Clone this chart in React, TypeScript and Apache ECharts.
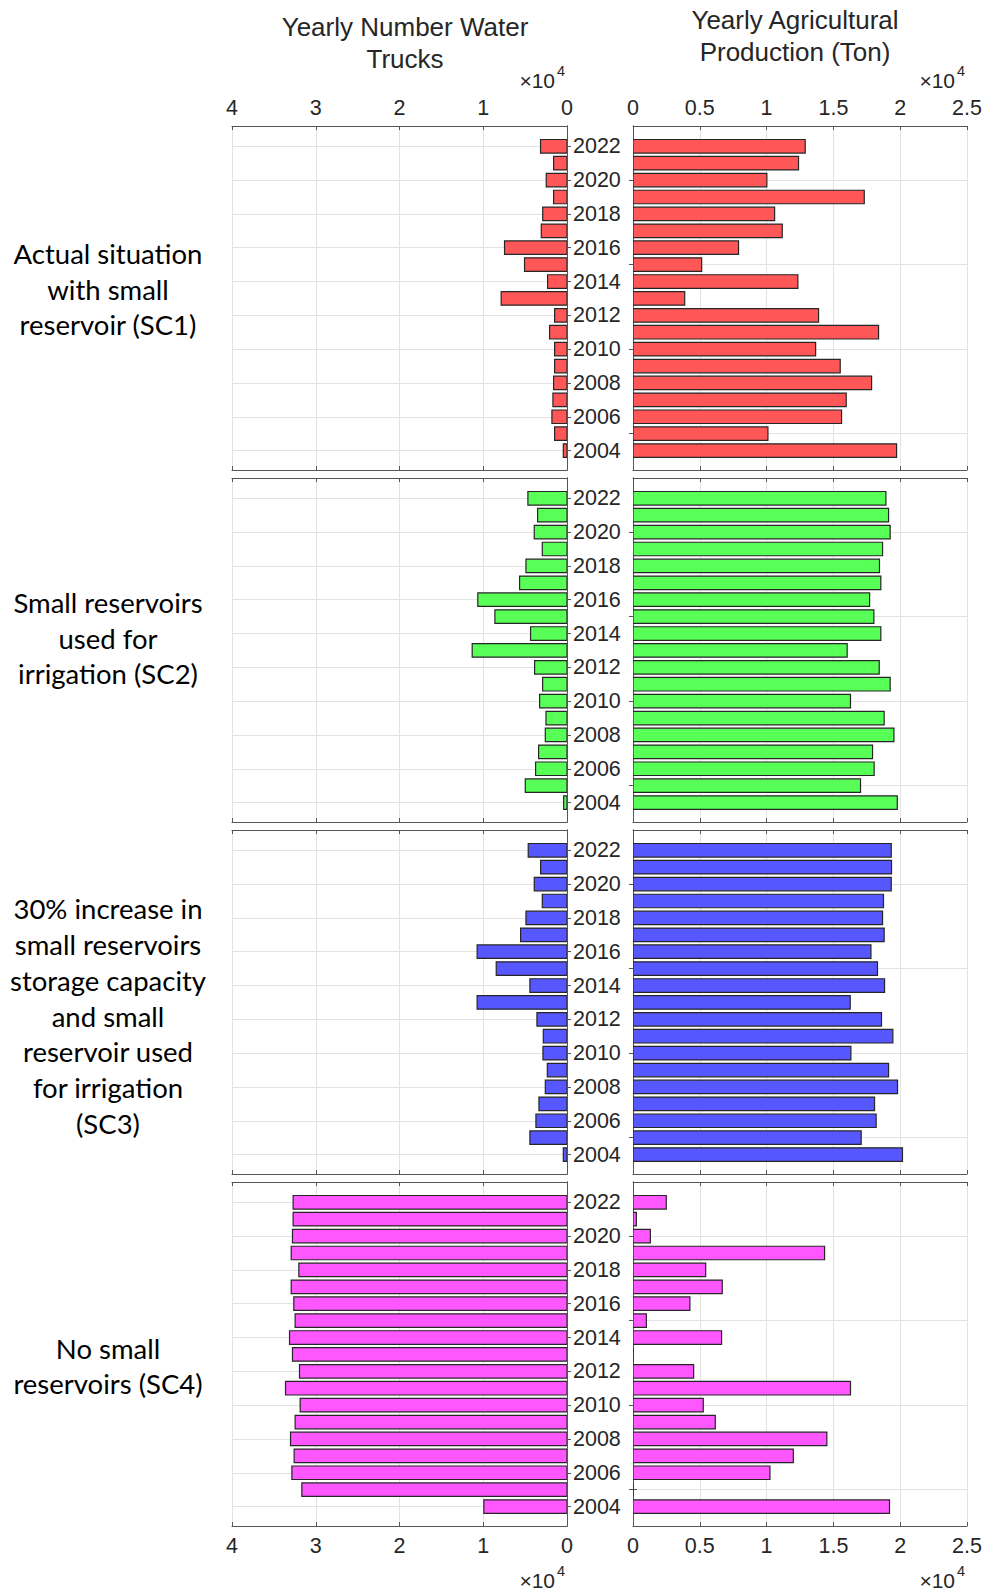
import { useEffect, useRef } from 'react';
import * as echarts from 'echarts';

// Years shown on every panel (bottom to top)
const YEARS = [2004, 2005, 2006, 2007, 2008, 2009, 2010, 2011, 2012, 2013, 2014, 2015, 2016, 2017, 2018, 2019, 2020, 2021, 2022];
// Labelled year ticks between the two columns
const YEAR_LABELS = [2004, 2006, 2008, 2010, 2012, 2014, 2016, 2018, 2020, 2022];
// Year ticks of the production panels
const PRODUCTION_YEAR_TICKS = [2005, 2010, 2015, 2020];

// Yearly number of water trucks, 2004 -> 2022
const SC1_TRUCKS = [440, 1480, 1800, 1680, 1600, 1480, 1480, 2080, 1480, 7860, 2320, 5070, 7460, 3070, 2900, 1600, 2480, 1600, 3160];
const SC2_TRUCKS = [400, 4980, 3750, 3390, 2590, 2510, 3270, 2910, 3870, 11320, 4350, 8610, 10650, 5660, 4900, 2950, 3910, 3510, 4670];
const SC3_TRUCKS = [440, 4430, 3710, 3350, 2590, 2350, 2870, 2830, 3590, 10730, 4430, 8450, 10730, 5540, 4900, 2950, 3910, 3150, 4630];
const SC4_TRUCKS = [9930, 31660, 32850, 32580, 33010, 32460, 31860, 33610, 31940, 32780, 33130, 32460, 32620, 32930, 32020, 32930, 32780, 32700, 32700];

// Yearly agricultural production (ton), 2004 -> 2022
const SC1_PRODUCTION = [19730, 10100, 15610, 15960, 17860, 15510, 13670, 18380, 13890, 3870, 12340, 5140, 7900, 11170, 10600, 17310, 10020, 12390, 12890];
const SC2_PRODUCTION = [19780, 17030, 18050, 17930, 19530, 18800, 16280, 19250, 18430, 16030, 18550, 18030, 17710, 18550, 18450, 18680, 19250, 19130, 18930];
const SC3_PRODUCTION = [20170, 17080, 18200, 18080, 19800, 19130, 16310, 19450, 18600, 16260, 18830, 18300, 17810, 18800, 18680, 18750, 19330, 19350, 19330];
const SC4_PRODUCTION = [19200, 0, 10250, 12000, 14510, 6160, 5260, 16280, 4540, 0, 6630, 1000, 4260, 6680, 5440, 14340, 1300, 250, 2490];

const SCENARIO_LABELS = [
  'Actual situation\nwith small\nreservoir (SC1)',
  'Small reservoirs\nused for\nirrigation (SC2)',
  '30% increase in\nsmall reservoirs\nstorage capacity\nand small\nreservoir used\nfor irrigation\n(SC3)',
  'No small\nreservoirs (SC4)',
];
const SCENARIO_COLORS = ['#ff5757', '#57ff57', '#5757ff', '#ff57ff'];

const TRUCKS_TITLE = 'Yearly Number Water\nTrucks';
const PRODUCTION_TITLE = 'Yearly Agricultural\nProduction (Ton)';

const TRUCKS_MAX = 40000;
const TRUCKS_STEP = 10000;
const PRODUCTION_MAX = 25000;
const PRODUCTION_STEP = 5000;
const SCALE = 10000;

// Layout
const ROW_TOPS = [126, 478, 830, 1182];
const ROW_H = 344;
const LEFT_X = 232;
const LEFT_W = 335;
const RIGHT_X = 633;
const RIGHT_W = 334;
const Y_MIN = 2002.85;
const Y_MAX = 2023.2;
const BAR_HALF = 0.4;

const AXIS_FONT = 'Liberation Sans, Arial, Helvetica, sans-serif';
const LABEL_FONT = 'Lato, Open Sans, sans-serif';
const TEXT_COLOR = '#262626';
const BOX_COLOR = '#555555';
const GRID_COLOR = '#e2e2e2';

const ROW_LABEL_Y = [289, 638, 1016, 1366];

function barRenderer(color: string) {
  return (_params: any, api: any) => {
    const v = api.value(0);
    const y = api.value(1);
    const p0 = api.coord([0, y + BAR_HALF]);
    const p1 = api.coord([v, y - BAR_HALF]);
    return {
      type: 'rect',
      shape: {
        x: Math.min(p0[0], p1[0]),
        y: Math.min(p0[1], p1[1]),
        width: Math.abs(p1[0] - p0[0]),
        height: Math.abs(p1[1] - p0[1]),
      },
      style: { fill: color, stroke: '#262626', lineWidth: 1.2 },
    };
  };
}

function buildOption() {
  const rows = [
    { trucks: SC1_TRUCKS, production: SC1_PRODUCTION },
    { trucks: SC2_TRUCKS, production: SC2_PRODUCTION },
    { trucks: SC3_TRUCKS, production: SC3_PRODUCTION },
    { trucks: SC4_TRUCKS, production: SC4_PRODUCTION },
  ];

  const grid: any[] = [];
  const xAxis: any[] = [];
  const yAxis: any[] = [];
  const series: any[] = [];

  const axisLine = { show: true, lineStyle: { color: BOX_COLOR, width: 1 } };
  const tickStyle = { show: true, inside: true, length: 4, lineStyle: { color: BOX_COLOR, width: 1 } };
  const labelStyle = { color: TEXT_COLOR, fontFamily: AXIS_FONT, fontSize: 21.5 };

  rows.forEach((row, r) => {
    const top = ROW_TOPS[r];
    const isFirst = r === 0;
    const isLast = r === rows.length - 1;

    [0, 1].forEach((side) => {
      const g = r * 2 + side;
      const isTrucks = side === 0;
      grid.push({
        left: isTrucks ? LEFT_X : RIGHT_X,
        top,
        width: isTrucks ? LEFT_W : RIGHT_W,
        height: ROW_H,
        containLabel: false,
      });

      const xBase = {
        type: 'value',
        gridIndex: g,
        min: 0,
        max: isTrucks ? TRUCKS_MAX : PRODUCTION_MAX,
        interval: isTrucks ? TRUCKS_STEP : PRODUCTION_STEP,
        inverse: isTrucks,
        axisLine,
        axisTick: tickStyle,
      };
      // bottom x axis (carries the split lines)
      xAxis.push({
        ...xBase,
        position: 'bottom',
        splitLine: { show: true, lineStyle: { color: GRID_COLOR, width: 1 } },
        axisLabel: {
          show: isLast,
          margin: 9,
          ...labelStyle,
          formatter: (v: number) => String(v / SCALE),
        },
      });
      // top x axis
      xAxis.push({
        ...xBase,
        position: 'top',
        splitLine: { show: false },
        axisLabel: {
          show: isFirst,
          margin: 7,
          ...labelStyle,
          formatter: (v: number) => String(v / SCALE),
        },
      });

      const ticks = isTrucks ? YEAR_LABELS : PRODUCTION_YEAR_TICKS;
      const yBase = {
        type: 'value',
        gridIndex: g,
        min: Y_MIN,
        max: Y_MAX,
        axisLine,
        axisTick: { ...tickStyle, customValues: ticks },
      };
      // primary y axis: year labels sit to the right of the trucks panels
      yAxis.push({
        ...yBase,
        position: isTrucks ? 'right' : 'left',
        splitLine: { show: true, lineStyle: { color: GRID_COLOR, width: 1 } },
        axisLabel: {
          show: isTrucks,
          customValues: YEAR_LABELS,
          margin: 6,
          ...labelStyle,
          formatter: (v: number) => String(v),
        },
      });
      // opposite y axis: ticks only
      yAxis.push({
        ...yBase,
        position: isTrucks ? 'left' : 'right',
        splitLine: { show: false },
        axisLabel: { show: false },
      });

      const values = isTrucks ? row.trucks : row.production;
      series.push({
        type: 'custom',
        name: (isTrucks ? 'Trucks SC' : 'Production SC') + (r + 1),
        xAxisIndex: g * 2,
        yAxisIndex: g * 2,
        encode: { x: 0, y: 1 },
        data: YEARS.map((yr, i) => [values[i], yr]),
        renderItem: barRenderer(SCENARIO_COLORS[r]),
        clip: true,
      });
    });
  });

  const graphic: any[] = [];
  const headerStyle = {
    fontFamily: AXIS_FONT,
    fontSize: 26,
    fill: TEXT_COLOR,
    align: 'center',
    verticalAlign: 'middle',
    lineHeight: 32,
  };
  graphic.push({ type: 'text', x: 405, y: 43, style: { ...headerStyle, text: TRUCKS_TITLE } });
  graphic.push({ type: 'text', x: 795, y: 36, style: { ...headerStyle, text: PRODUCTION_TITLE } });

  SCENARIO_LABELS.forEach((txt, r) => {
    graphic.push({
      type: 'text',
      x: 108,
      y: ROW_LABEL_Y[r],
      style: {
        text: txt,
        fontFamily: LABEL_FONT,
        fontSize: 27.5,
        fill: '#000000',
        align: 'center',
        verticalAlign: 'middle',
        lineHeight: 35.8,
      },
    });
  });

  // exponent markers of the x axes
  const exponentSpots = [
    { right: LEFT_X + LEFT_W, y: 80 },
    { right: RIGHT_X + RIGHT_W, y: 80 },
    { right: LEFT_X + LEFT_W, y: 1580 },
    { right: RIGHT_X + RIGHT_W, y: 1580 },
  ];
  exponentSpots.forEach((s) => {
    graphic.push({
      type: 'text',
      x: s.right - 12,
      y: s.y,
      style: {
        text: '\u00d710',
        fontFamily: AXIS_FONT,
        fontSize: 21,
        fill: TEXT_COLOR,
        align: 'right',
        verticalAlign: 'middle',
      },
    });
    graphic.push({
      type: 'text',
      x: s.right - 10,
      y: s.y - 9,
      style: {
        text: '4',
        fontFamily: AXIS_FONT,
        fontSize: 14.5,
        fill: TEXT_COLOR,
        align: 'left',
        verticalAlign: 'middle',
      },
    });
  });

  return {
    animation: false,
    backgroundColor: '#ffffff',
    grid,
    xAxis,
    yAxis,
    series,
    graphic,
  };
}

export default function App() {
  const ref = useRef<HTMLDivElement>(null);

  useEffect(() => {
    document.body.style.margin = '0';
    if (!ref.current) return;
    const chart = echarts.init(ref.current, undefined, { renderer: 'svg' });
    chart.setOption(buildOption() as any);
    return () => {
      chart.dispose();
    };
  }, []);

  return <div ref={ref} style={{ width: 999, height: 1593 }} />;
}
